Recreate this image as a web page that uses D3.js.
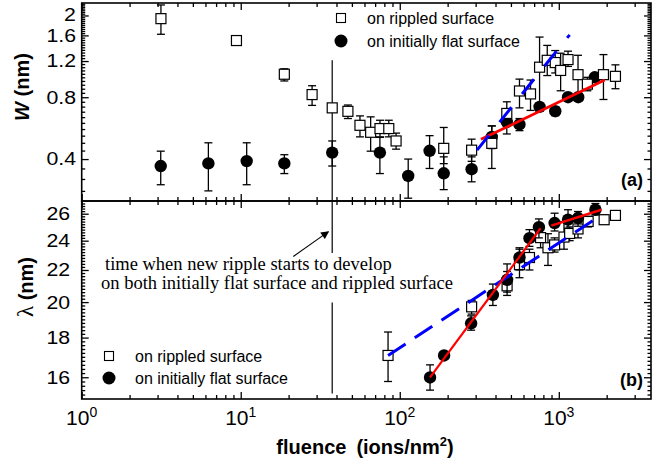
<!DOCTYPE html>
<html>
<head>
<meta charset="utf-8">
<script src="https://cdn.jsdelivr.net/npm/d3@7"></script>
<style>
body { margin: 0; background: #fff; }
svg { display: block; }
</style>
</head>
<body>
<svg id="chart" width="663" height="465"></svg>
<script>
// [fluence, value, lower, upper]
var rippledW = [
    [3.15, 1.93, 1.62, 2.25], [9.4, 1.51, 1.48, 1.54], [18.8, 1.035, 0.96, 1.10],
    [28.1, 0.824, 0.73, 0.91], [37.6, 0.71, 0.68, 0.74], [47.2, 0.683, 0.63, 0.733],
    [56.2, 0.584, 0.513, 0.649], [65.6, 0.54, 0.437, 0.642], [75.1, 0.563, 0.513, 0.618],
    [85.3, 0.563, 0.513, 0.618], [94.8, 0.49, 0.447, 0.535], [189, 0.451, 0.38, 0.57],
    [283, 0.442, 0.39, 0.50], [379, 0.477, 0.36, 0.58], [471, 0.667, 0.63, 0.76],
    [566, 0.858, 0.71, 0.98], [664, 0.83, 0.69, 0.97], [757, 1.12, 0.69, 1.57],
    [846, 1.21, 1.02, 1.43], [950, 1.18, 1.05, 1.35], [1027, 1.08, 0.86, 1.31],
    [1143, 1.22, 1.13, 1.34], [1321, 1.03, 0.79, 1.28], [1513, 0.926, 0.86, 1.0],
    [1909, 1.03, 0.78, 1.29], [2271, 1.011, 0.88, 1.15]
]
var flatW = [
    [3.14, 0.37, 0.30, 0.437], [6.26, 0.381, 0.28, 0.48], [10.9, 0.391, 0.30, 0.48],
    [18.8, 0.381, 0.34, 0.42], [37.6, 0.43, 0.37, 0.49], [75, 0.43, 0.34, 0.51],
    [113, 0.331, 0.258, 0.40], [154, 0.439, 0.36, 0.52], [189, 0.341, 0.284, 0.41],
    [283, 0.357, 0.31, 0.41], [379, 0.513, 0.45, 0.58], [471, 0.607, 0.53, 0.66],
    [566, 0.59, 0.55, 0.63], [757, 0.718, 0.69, 0.75], [950, 0.684, 0.65, 0.72],
    [1143, 0.80, 0.77, 0.83], [1325, 0.80, 0.77, 0.83], [1683, 1.0, 0.96, 1.04]
]
var rippledL = [
    [84.4, 17.07, 15.8, 18.3], [283, 19.72, 19.3, 20.1], [473, 20.99, 20.4, 21.9],
    [566, 22.35, 21.5, 23.4], [654, 22.83, 22.0, 23.4], [768, 24.22, 23.5, 25.0],
    [855, 23.5, 22.3, 24.5], [941, 23.7, 23.2, 24.2], [1078, 24.26, 23.4, 25.4],
    [1170, 24.52, 24.0, 25.0], [1321, 24.85, 24.2, 25.9], [1529, 25.41, 25.0, 25.8],
    [1928, 25.54, 25.2, 25.9], [2271, 25.87, 25.87, 25.87]
]
var flatL = [
    [155, 15.99, 15.4, 16.6], [190, 17.07, 16.9, 17.25], [281, 18.78, 18.4, 19.2],
    [385, 20.43, 19.8, 21.1], [473, 21.37, 20.6, 22.4], [566, 22.83, 22.0, 23.5],
    [654, 24.18, 23.6, 24.8], [750, 24.98, 24.2, 25.6], [941, 25.29, 24.7, 26.04],
    [1143, 25.54, 24.9, 26.31], [1321, 25.67, 25.05, 26.17], [1699, 26.31, 25.9, 26.8]
]
// fitted lines [fluence, value]
var fitRedW = [[324, 0.499], [1945, 0.97]]
var fitBlueW = [[306, 0.442], [1170, 1.61]]
var fitRedL1 = [[155, 15.99], [768, 24.9]]
var fitRedL2 = [[897, 25.1], [1854, 26.31]]
var fitBlueL = [[84.4, 17.07], [1836, 25.87]]

var xTicks = [1, 10, 100, 1000]
var wTicks = [0.4, 0.8, 1.2, 1.6, 2]
var lTicks = [16, 18, 20, 22, 24, 26]
var markFluence = 37.6

var svg = d3.select("#chart")
var left = 81.7, right = 651
var topA = 3, botA = 201, topB = 201, botB = 399

var scX = d3.scaleLog().domain([1, 3800]).range([left, right])
var scW = d3.scaleLog().domain([0.25, 2.3]).range([botA, topA])
var scL = d3.scaleLog().domain([15, 27]).range([botB, topB])

var xMinor = []
for (var e = 0; e < 4; e++)
    for (var m = 2; m < 10; m++) {
        var v = m * Math.pow(10, e)
        if (v < 3800) xMinor.push(v)
    }
var wMinor = d3.range(0.28, 2.29, 0.04).filter(v => wTicks.every(t => Math.abs(t - v) > 0.01))
var lMinor = d3.range(15.2, 26.99, 0.2).filter(v => lTicks.every(t => Math.abs(t - v) > 0.05))

var addAxis = function (axis, tx, ty) {
    var g = svg.append("g").attr("transform", `translate(${tx},${ty})`).call(axis)
    g.select(".domain").remove()
    g.selectAll("line").attr("stroke", "#000").attr("stroke-width", 1.3)
    return g
}

// x ticks on all horizontal borders
;[[d3.axisTop, topA], [d3.axisBottom, botA], [d3.axisTop, topB], [d3.axisBottom, botB]].forEach(function (a) {
    addAxis(a[0](scX).tickValues(xTicks).tickSize(-7).tickFormat(""), 0, a[1])
    addAxis(a[0](scX).tickValues(xMinor).tickSize(-4).tickFormat(""), 0, a[1])
})

// y ticks
var wl = addAxis(d3.axisLeft(scW).tickValues(wTicks).tickSize(-7).tickPadding(5).tickFormat(d3.format("")), left, 0)
addAxis(d3.axisLeft(scW).tickValues(wMinor).tickSize(-3.5).tickFormat(""), left, 0)
addAxis(d3.axisRight(scW).tickValues(wTicks).tickSize(-7).tickFormat(""), right, 0)
addAxis(d3.axisRight(scW).tickValues(wMinor).tickSize(-3.5).tickFormat(""), right, 0)
var ll = addAxis(d3.axisLeft(scL).tickValues(lTicks).tickSize(-7).tickPadding(10).tickFormat(d3.format("")), left, 0)
addAxis(d3.axisLeft(scL).tickValues(lMinor).tickSize(-3.5).tickFormat(""), left, 0)
addAxis(d3.axisRight(scL).tickValues(lTicks).tickSize(-7).tickFormat(""), right, 0)
addAxis(d3.axisRight(scL).tickValues(lMinor).tickSize(-3.5).tickFormat(""), right, 0)

// tick labels: slightly wide face like the original
;[wl, ll].forEach(g => g.selectAll("text")
    .attr("font-family", "Liberation Sans, Arial, sans-serif").attr("font-size", 18.5).attr("fill", "#000")
    .attr("transform", "scale(1.15,1)"))
wl.selectAll("text").filter(d => d == 2).attr("dy", "0.26em")

// x tick labels 10^n
var xl = svg.append("g").selectAll("text").data(xTicks).enter().append("text")
    .attr("x", d => scX(d)).attr("y", 425)
    .attr("text-anchor", "middle")
    .attr("font-family", "Liberation Sans, Arial, sans-serif").attr("font-size", 21)
xl.append("tspan").text("10")
xl.append("tspan").attr("dy", -8).attr("font-size", 14).text(d => Math.round(Math.log10(d)))

// frames
;[[topA, botA], [topB, botB]].forEach(function (p) {
    svg.append("rect").attr("x", left).attr("y", p[0])
        .attr("width", right - left).attr("height", p[1] - p[0])
        .attr("fill", "none").attr("stroke", "#000").attr("stroke-width", 1.6)
})

// vertical marker line
var vline = function (y1, y2) {
    svg.append("line").attr("x1", scX(markFluence)).attr("x2", scX(markFluence))
        .attr("y1", y1).attr("y2", y2).attr("stroke", "#000").attr("stroke-width", 1.2)
}
vline(scW(1.21), botA)
vline(topB, scL(23.13))
vline(scL(19.97), scL(15.25))

// arrow
svg.append("defs").append("marker").attr("id", "arr")
    .attr("viewBox", "0 0 10 10").attr("refX", 9).attr("refY", 5)
    .attr("markerWidth", 10).attr("markerHeight", 8).attr("orient", "auto")
    .attr("markerUnits", "userSpaceOnUse")
    .append("path").attr("d", "M0,0L10,5L0,10z").attr("fill", "#000")
svg.append("line")
    .attr("x1", scX(21.4)).attr("y1", scL(22.9))
    .attr("x2", scX(35.6)).attr("y2", scL(24.65))
    .attr("stroke", "#000").attr("stroke-width", 1.1).attr("marker-end", "url(#arr)")

svg.append("text").attr("x", 105).attr("y", 270)
    .attr("font-family", "Liberation Serif, Times New Roman, serif").attr("font-size", 18.5)
    .text("time when new ripple starts to develop")
svg.append("text").attr("x", 101).attr("y", 289)
    .attr("font-family", "Liberation Serif, Times New Roman, serif").attr("font-size", 18.5)
    .text("on both initially flat surface and rippled surface")

// fit lines
var drawFit = function (data, scY, color, dash, width) {
    var ln = d3.line().x(d => scX(d[0])).y(d => scY(d[1]))
    svg.append("path").attr("d", ln(data)).attr("fill", "none")
        .attr("stroke", color).attr("stroke-width", width)
        .attr("stroke-dasharray", dash)
}

// data with error bars
var drawSeries = function (data, scY, kind) {
    var g = svg.append("g")
    var eb = g.selectAll("g.eb").data(data).enter().append("g")
        .attr("stroke", "#000").attr("stroke-width", 1.3)
    eb.append("line").attr("x1", d => scX(d[0])).attr("x2", d => scX(d[0]))
        .attr("y1", d => scY(d[2])).attr("y2", d => scY(d[3]))
    eb.filter(d => d[3] > d[2]).append("line")
        .attr("x1", d => scX(d[0]) - 4).attr("x2", d => scX(d[0]) + 4)
        .attr("y1", d => scY(d[2])).attr("y2", d => scY(d[2]))
    eb.filter(d => d[3] > d[2]).append("line")
        .attr("x1", d => scX(d[0]) - 4).attr("x2", d => scX(d[0]) + 4)
        .attr("y1", d => scY(d[3])).attr("y2", d => scY(d[3]))
    if (kind == "square") {
        g.selectAll("rect").data(data).enter().append("rect")
            .attr("x", d => scX(d[0]) - 5).attr("y", d => scY(d[1]) - 5)
            .attr("width", 10).attr("height", 10)
            .attr("fill", "#fff").attr("stroke", "#000").attr("stroke-width", 1.2)
    } else {
        g.selectAll("circle").data(data).enter().append("circle")
            .attr("cx", d => scX(d[0])).attr("cy", d => scY(d[1]))
            .attr("r", 6.2).attr("fill", "#000")
    }
}

drawSeries(flatW, scW, "circle")
drawSeries(rippledW, scW, "square")
drawFit(fitRedW, scW, "#f00", null, 2.7)
drawFit(fitBlueW, scW, "#0000ff", "19,17", 3)

drawSeries(rippledL, scL, "square")
drawSeries(flatL, scL, "circle")
drawFit(fitBlueL, scL, "#0000ff", "21,11", 3)
drawFit(fitRedL1, scL, "#f00", null, 2.2)
drawFit(fitRedL2, scL, "#f00", null, 2.5)

// legends
var legend = function (x, y1, y2) {
    var f = "Liberation Sans, Arial, sans-serif"
    svg.append("rect").attr("x", x - 4.5).attr("y", y1 - 4.5).attr("width", 9).attr("height", 9)
        .attr("fill", "#fff").attr("stroke", "#000").attr("stroke-width", 1.1)
    svg.append("circle").attr("cx", x).attr("cy", y2).attr("r", 6.5).attr("fill", "#000")
    svg.append("text").attr("x", x + 26).attr("y", y1 + 6).attr("font-family", f).attr("font-size", 16)
        .text("on rippled surface")
    svg.append("text").attr("x", x + 26).attr("y", y2 + 6).attr("font-family", f).attr("font-size", 16)
        .text("on initially flat surface")
}
legend(341, 18, 41)
legend(109, 356, 378)

// panel labels
var bold = "Liberation Sans, Arial, sans-serif"
svg.append("text").attr("x", 643).attr("y", 186).attr("text-anchor", "end")
    .attr("font-family", bold).attr("font-weight", "bold").attr("font-size", 18).text("(a)")
svg.append("text").attr("x", 643).attr("y", 386).attr("text-anchor", "end")
    .attr("font-family", bold).attr("font-weight", "bold").attr("font-size", 18).text("(b)")

// axis titles
var wt = svg.append("text").attr("transform", "translate(29,87) rotate(-90)")
    .attr("text-anchor", "middle").attr("font-family", bold).attr("font-size", 20).attr("font-weight", "bold")
wt.append("tspan").attr("font-style", "italic").text("W")
wt.append("tspan").text(" (nm)")
var lt = svg.append("text").attr("transform", "translate(33,287) rotate(-90)")
    .attr("text-anchor", "middle").attr("font-family", bold).attr("font-size", 20).attr("font-weight", "bold")
lt.append("tspan").attr("font-family", "Liberation Serif, serif").attr("font-weight", "normal")
    .attr("font-size", 23).text("λ")
lt.append("tspan").text(" (nm)")

var xt = svg.append("text").attr("x", 365).attr("y", 454).attr("text-anchor", "middle")
    .attr("font-family", bold).attr("font-size", 20).attr("font-weight", "bold")
xt.append("tspan").text("fluence\u2002(ions/nm")
xt.append("tspan").attr("dy", -8).attr("font-size", 13).text("2")
xt.append("tspan").attr("dy", 8).text(")")
</script>
</body>
</html>
